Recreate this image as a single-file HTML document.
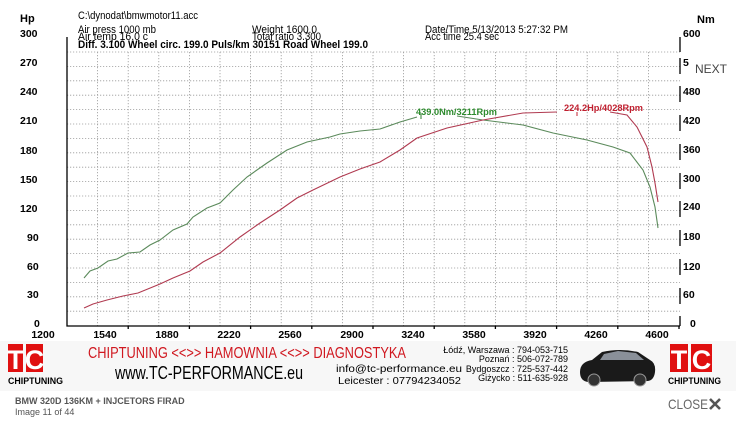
<!DOCTYPE html>
<html><head><meta charset="utf-8"><style>
body{margin:0;background:#fff;width:736px;height:424px;overflow:hidden}
svg{display:block}
text{font-family:"Liberation Sans",sans-serif}
</style></head><body>
<svg width="736" height="424" viewBox="0 0 736 424" xmlns="http://www.w3.org/2000/svg">
<rect width="736" height="424" fill="#fff"/>
<g stroke="#9a9a9a" stroke-width="0.8" stroke-dasharray="1.2,1.8">
<path d="M67 52H680M67 66.4H680M67 80.8H680M67 95.2H680M67 109.6H680M67 124H680M67 138.4H680M67 152.8H680M67 167.2H680M67 181.6H680M67 196H680M67 210.4H680M67 224.8H680M67 239.2H680M67 253.6H680M67 268H680M67 282.4H680M67 296.8H680M67 311.2H680"/>
<path d="M97.6 52V326M128.2 52V326M158.8 52V326M189.4 52V326M220 52V326M250.6 52V326M281.2 52V326M311.8 52V326M342.4 52V326M373 52V326M403.6 52V326M434.2 52V326M464.8 52V326M495.4 52V326M526 52V326M556.6 52V326M587.2 52V326M617.8 52V326M648.4 52V326"/>
</g>
<g stroke="#000" stroke-width="1.3" fill="none">
<path d="M67 37V326H680"/>
<path d="M680 37V52M680 58V74M680 86V102M680 115V131M680 144V160M680 173V189M680 201V217M680 230V246M680 259V275M680 288V304M680 316V326"/>
<path d="M128.2 326v3M189.4 326v3M250.6 326v3M311.8 326v3M373 326v3M434.2 326v3M495.4 326v3M556.6 326v3M617.8 326v3M679 326v3"/>
</g>
<polyline fill="none" stroke="#5b8a5b" stroke-width="1.1" points="84,278 90,271 98,268 108,261 117,259 128,253 140,252 150,245 160,240 173,230 187,224 193,217 207,208 220,203 233,190 247,177 267,163 287,150 307,142 330,137 340,134 360,131 380,129 400,122 417,117"/>
<polyline fill="none" stroke="#5b8a5b" stroke-width="1.1" points="457,116 483,120 523,125 553,133 587,140 613,147 630,153 643,170 650,187 655,207 658,228"/>
<polyline fill="none" stroke="#b03a50" stroke-width="1.1" points="84,308 93,304 107,300 123,296 138,293 160,284 173,278 190,271 203,262 220,253 240,237 260,223 280,210 297,198 313,190 340,177 360,169 380,162 400,150 417,138 447,128 483,120 523,113 557,112"/>
<polyline fill="none" stroke="#b03a50" stroke-width="1.1" points="610,112 627,115 637,127 647,147 652,167 655,183 658,202"/>
<path d="M421 114v5" stroke="#2e7d2e"/><path d="M577 112v4" stroke="#c02030"/>
<text x="416" y="115" font-size="9.5" font-weight="bold" fill="#2e8b2e" textLength="81" lengthAdjust="spacingAndGlyphs">439.0Nm/3211Rpm</text>
<text x="564" y="111" font-size="9.5" font-weight="bold" fill="#c02030" textLength="79" lengthAdjust="spacingAndGlyphs">224.2Hp/4028Rpm</text>
<g font-size="11" fill="#000">
<text x="20" y="22" font-weight="bold">Hp</text>
<text x="697" y="23" font-weight="bold">Nm</text>
<text x="78" y="19" textLength="120" lengthAdjust="spacingAndGlyphs">C:\dynodat\bmwmotor11.acc</text>
<text x="78" y="33" textLength="78" lengthAdjust="spacingAndGlyphs">Air press  1000 mb</text>
<text x="78" y="40" textLength="70" lengthAdjust="spacingAndGlyphs">Air temp  16.0 c</text>
<text x="78" y="48" font-weight="bold" textLength="290" lengthAdjust="spacingAndGlyphs">Diff.   3.100   Wheel circ. 199.0   Puls/km   30151   Road Wheel 199.0</text>
<text x="252" y="33" textLength="65" lengthAdjust="spacingAndGlyphs">Weight  1600.0</text>
<text x="252" y="40" textLength="69" lengthAdjust="spacingAndGlyphs">Total ratio 3.300</text>
<text x="425" y="33" textLength="143" lengthAdjust="spacingAndGlyphs">Date/Time  5/13/2013 5:27:32 PM</text>
<text x="425" y="40" textLength="74" lengthAdjust="spacingAndGlyphs">Acc time  25.4 sec</text>
</g>
<g font-size="10.5" fill="#000" font-weight="bold">
<text x="20" y="37">300</text><text x="20" y="66">270</text><text x="20" y="95">240</text><text x="20" y="124">210</text><text x="20" y="154">180</text><text x="20" y="183">150</text><text x="20" y="212">120</text><text x="27" y="241">90</text><text x="27" y="270">60</text><text x="27" y="298">30</text><text x="34" y="327">0</text>
<text x="683" y="37">600</text><text x="683" y="66">5</text><text x="683" y="95">480</text><text x="683" y="124">420</text><text x="683" y="153">360</text><text x="683" y="182">300</text><text x="683" y="210">240</text><text x="683" y="240">180</text><text x="683" y="270">120</text><text x="683" y="298">60</text><text x="690" y="327">0</text>
<text x="43" y="338" text-anchor="middle">1200</text><text x="105" y="338" text-anchor="middle">1540</text><text x="167" y="338" text-anchor="middle">1880</text><text x="229" y="338" text-anchor="middle">2220</text><text x="290" y="338" text-anchor="middle">2560</text><text x="352" y="338" text-anchor="middle">2900</text><text x="413" y="338" text-anchor="middle">3240</text><text x="474" y="338" text-anchor="middle">3580</text><text x="535" y="338" text-anchor="middle">3920</text><text x="596" y="338" text-anchor="middle">4260</text><text x="657" y="338" text-anchor="middle">4600</text>
</g>
<text x="695" y="73" font-size="12" fill="#444">NEXT</text>
<rect x="0" y="341" width="736" height="50" fill="#f7f7f7"/>
<g>
<rect x="8" y="344" width="15" height="28" fill="#e01010"/><rect x="26" y="344" width="17" height="28" fill="#e01010"/>
<text x="15.5" y="369" font-size="27" font-weight="bold" fill="#fff" text-anchor="middle">T</text>
<text x="34.5" y="369" font-size="27" font-weight="bold" fill="#fff" text-anchor="middle">C</text>
<text x="8" y="384" font-size="9" font-weight="bold" fill="#000" textLength="55" lengthAdjust="spacingAndGlyphs">CHIPTUNING</text>
<rect x="670" y="344" width="18" height="28" fill="#e01010"/><rect x="691" y="344" width="21" height="28" fill="#e01010"/>
<text x="679" y="369" font-size="27" font-weight="bold" fill="#fff" text-anchor="middle">T</text>
<text x="701.5" y="369" font-size="27" font-weight="bold" fill="#fff" text-anchor="middle">C</text>
<text x="668" y="384" font-size="9" font-weight="bold" fill="#000" textLength="53" lengthAdjust="spacingAndGlyphs">CHIPTUNING</text>
</g>
<text x="88" y="358" font-size="16" fill="#d01820" textLength="318" lengthAdjust="spacingAndGlyphs">CHIPTUNING &lt;&lt;&gt;&gt; HAMOWNIA &lt;&lt;&gt;&gt; DIAGNOSTYKA</text>
<text x="115" y="379" font-size="18" fill="#000" textLength="188" lengthAdjust="spacingAndGlyphs">www.TC-PERFORMANCE.eu</text>
<text x="336" y="372" font-size="10" fill="#000" textLength="126" lengthAdjust="spacingAndGlyphs">info@tc-performance.eu</text>
<text x="338" y="384" font-size="10" fill="#000" textLength="123" lengthAdjust="spacingAndGlyphs">Leicester : 07794234052</text>
<g font-size="9" fill="#000" text-anchor="end">
<text x="568" y="353">Łódź, Warszawa : 794-053-715</text>
<text x="568" y="362">Poznań : 506-072-789</text>
<text x="568" y="372">Bydgoszcz : 725-537-442</text>
<text x="568" y="381">Giżycko : 511-635-928</text>
</g>
<g>
<path d="M580 372 Q580 362 592 360 L602 352 Q620 348 638 352 L650 360 Q656 363 655 372 Q654 380 648 381 L588 382 Q580 381 580 372Z" fill="#1a1a1a"/>
<path d="M604 354 L618 351 L636 353 L644 360 L600 360Z" fill="#8a9099"/>
<circle cx="594" cy="380" r="6" fill="#333" stroke="#999"/><circle cx="640" cy="380" r="6" fill="#333" stroke="#999"/>
</g>
<text x="15" y="404" font-size="9" font-weight="bold" fill="#555">BMW 320D 136KM + INJCETORS FIRAD</text>
<text x="15" y="415" font-size="9" fill="#555">Image 11 of 44</text>
<text x="668" y="409" font-size="14" fill="#666" textLength="40" lengthAdjust="spacingAndGlyphs">CLOSE</text>
<path d="M710 399l10 10M720 399l-10 10" stroke="#555" stroke-width="2.6"/>
</svg>
</body></html>
